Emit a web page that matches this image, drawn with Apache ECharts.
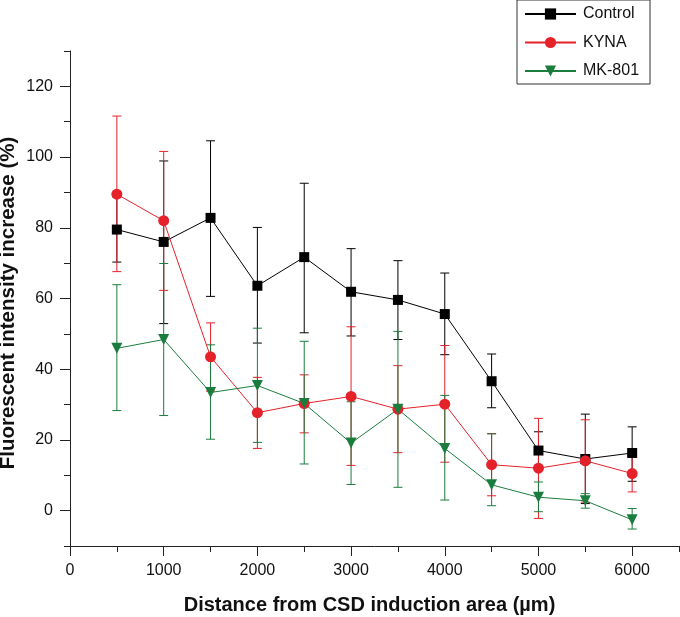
<!DOCTYPE html>
<html><head><meta charset="utf-8">
<script src="https://cdn.jsdelivr.net/npm/echarts@6/dist/echarts.min.js"></script>
<style>html,body{margin:0;padding:0;background:#fff}#c{width:680px;height:617px}</style>
</head><body><div id="c"></div>
<script>
const distances = [500,1000,1500,2000,2500,3000,3500,4000,4500,5000,5500,6000];
const controlMean = [79.5,76.0,82.8,63.6,71.7,61.9,59.6,55.6,36.6,17.0,14.6,16.3];
const controlLow  = [70.3,52.9,60.6,47.4,50.3,49.4,48.4,44.1,29.1,11.7,2.0,8.3];
const controlHigh = [88.7,98.9,104.6,80.1,92.6,74.1,70.7,67.2,44.3,22.3,27.3,23.7];
const kynaMean = [89.5,82.0,43.5,27.7,30.3,32.3,28.7,30.1,13.0,12.0,14.1,10.5];
const kynaLow  = [67.6,62.3,33.8,17.6,22.0,12.8,16.4,13.7,4.2,-2.2,2.4,5.3];
const kynaHigh = [111.6,101.6,53.1,37.7,38.4,52.0,41.0,46.7,21.8,26.1,25.7,15.6];
const mkMean = [45.9,48.4,33.4,35.4,30.3,19.1,28.7,17.6,7.3,3.8,2.8,-2.6];
const mkLow  = [28.3,26.9,20.2,19.3,13.2,7.4,6.6,3.0,1.4,-0.3,0.7,-5.2];
const mkHigh = [63.9,69.9,46.9,51.6,47.9,30.8,50.7,32.6,21.7,8.1,4.8,0.6];
const xMajorTicks = [0,1000,2000,3000,4000,5000,6000];
const xMinorTicks = [500,1500,2500,3500,4500,5500,6500];
const yMajorTicks = [0,20,40,60,80,100,120];
const yMinorTicks = [-10,10,30,50,70,90,110,130];
const xTitle = 'Distance from CSD induction area (\u00b5m)';
const yTitle = 'Fluorescent intensity increase (%)';

const FONT = 'Liberation Sans, Arial, sans-serif';
const AX = '#222';
const colors = {control:'#000000', kyna:'#e5212a', mk:'#1b7d3d'};

function pts(m){ return distances.map((d,i)=>[d,m[i]]); }
function errData(lo,hi){ return distances.map((d,i)=>[d,lo[i],hi[i]]); }
function errSeries(name,lo,hi,color){
  return {
    type:'custom', name:name+'_err', data:errData(lo,hi), clip:false,
    encode:{x:0,y:[1,2]}, silent:true,
    renderItem:function(params,api){
      const x=api.value(0);
      const a=api.coord([x,api.value(1)]);
      const b=api.coord([x,api.value(2)]);
      const w=4.5;
      const st={stroke:color,lineWidth:1};
      return {type:'group',children:[
        {type:'line',shape:{x1:a[0],y1:a[1],x2:b[0],y2:b[1]},style:st},
        {type:'line',shape:{x1:a[0]-w,y1:a[1],x2:a[0]+w,y2:a[1]},style:st},
        {type:'line',shape:{x1:b[0]-w,y1:b[1],x2:b[0]+w,y2:b[1]},style:st}
      ]};
    }
  };
}
function lineSeries(name,m,color,symbol,size,rot){
  return {type:'line',name:name,data:pts(m),symbol:symbol,symbolSize:size,symbolRotate:rot||0,
    showAllSymbol:true,lineStyle:{color:color,width:1},itemStyle:{color:color,borderWidth:0},
    emphasis:{disabled:true},animation:false};
}
const plain = v => String(v);

const chart = echarts.init(document.getElementById('c'),null,{renderer:'canvas'});
chart.setOption({
  animation:false,
  grid:{left:70,right:1,top:51,bottom:71,containLabel:false,outerBoundsMode:'none'},
  graphic:[{
    type:'text', x:8.5, y:303, rotation:Math.PI/2, silent:true,
    style:{text:yTitle, fontFamily:FONT, fontSize:20.5, fontWeight:'bold', fill:'#111',
      align:'center', verticalAlign:'middle'}
  }],
  legend:{
    orient:'vertical',left:517,top:0,
    data:['Control','KYNA','MK-801'],
    itemWidth:51,itemHeight:14,itemGap:12.5,
    padding:[6,11,5,7],
    borderColor:'#333',borderWidth:1,backgroundColor:'#fff',
    textStyle:{fontFamily:FONT,fontSize:16,color:'#111',padding:[0,0,0,2]}
  },
  xAxis:[{
    type:'value',min:0,max:6500,position:'bottom',
    name:xTitle,nameLocation:'middle',nameGap:49,
    nameTextStyle:{fontFamily:FONT,fontSize:20,fontWeight:'bold',color:'#111',padding:[0,10,0,0]},
    axisLine:{show:true,onZero:false,lineStyle:{color:AX,width:1}},
    axisTick:{show:true,length:10,customValues:xMajorTicks,lineStyle:{color:AX}},
    axisLabel:{customValues:xMajorTicks,formatter:plain,fontFamily:FONT,fontSize:16,color:'#111',margin:17},
    splitLine:{show:false}
  },{
    type:'value',min:0,max:6500,position:'bottom',
    axisLine:{show:false,onZero:false},
    axisTick:{show:true,length:6,customValues:xMinorTicks,lineStyle:{color:AX}},
    axisLabel:{show:false},splitLine:{show:false}
  }],
  yAxis:[{
    type:'value',min:-10,max:130,position:'left',
    axisLine:{show:true,onZero:false,lineStyle:{color:AX,width:1}},
    axisTick:{show:true,length:10,customValues:yMajorTicks,lineStyle:{color:AX}},
    axisLabel:{customValues:yMajorTicks,formatter:plain,fontFamily:FONT,fontSize:16,color:'#111',margin:17},
    splitLine:{show:false}
  },{
    type:'value',min:-10,max:130,position:'left',
    axisLine:{show:false,onZero:false},
    axisTick:{show:true,length:6,customValues:yMinorTicks,lineStyle:{color:AX}},
    axisLabel:{show:false},splitLine:{show:false}
  }],
  series:[
    errSeries('Control',controlLow,controlHigh,colors.control),
    lineSeries('Control',controlMean,colors.control,'rect',10),
    errSeries('KYNA',kynaLow,kynaHigh,colors.kyna),
    lineSeries('KYNA',kynaMean,colors.kyna,'circle',11),
    errSeries('MK-801',mkLow,mkHigh,colors.mk),
    lineSeries('MK-801',mkMean,colors.mk,'triangle',11,180)
  ]
});
</script></body></html>
